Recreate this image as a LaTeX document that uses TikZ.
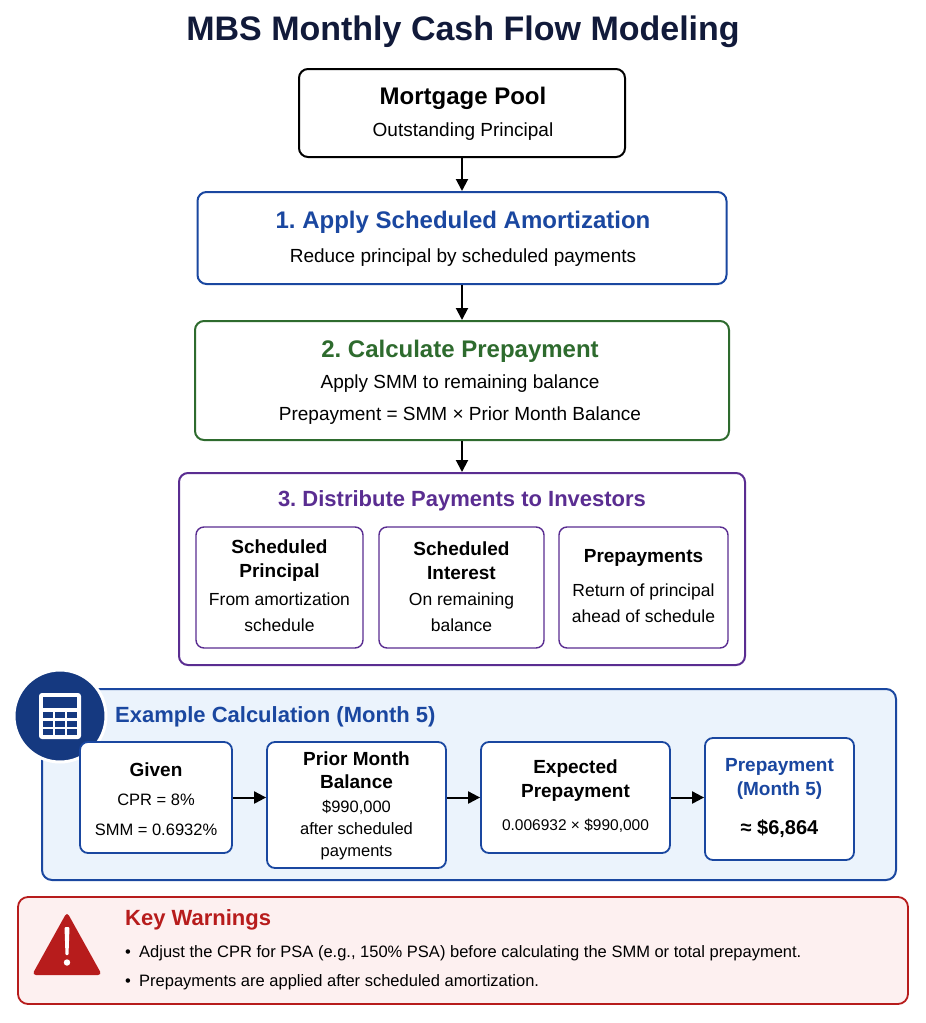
\documentclass[tikz,border=0pt]{standalone}
\usepackage{fontspec}
\setmainfont{Liberation Sans}
\frenchspacing
\usetikzlibrary{arrows.meta}
\definecolor{navy}{HTML}{111A3A}
\definecolor{bblue}{HTML}{1A47A0}
\definecolor{ggreen}{HTML}{2E6B2E}
\definecolor{ppurple}{HTML}{5A2D91}
\definecolor{lblue}{HTML}{EBF3FC}
\definecolor{rred}{HTML}{B71C1C}
\definecolor{lred}{HTML}{FDF0F0}
\begin{document}
\begin{tikzpicture}[x=1pt,y=-1pt,
  box/.style={draw,line width=2pt,rounded corners=9pt,fill=white},
  sub/.style={draw=ppurple,line width=1.4pt,rounded corners=8pt,fill=white},
  cb/.style={draw=bblue,line width=1.8pt,rounded corners=8pt,fill=white},
  arr/.style={-{Triangle[length=12pt,width=12pt]},line width=2pt,black},
  t/.style={inner sep=0pt,align=center,font=\fontsize{19}{23}\selectfont}]
\useasboundingbox (0,0) rectangle (926,1023);
\node[t,font=\fontsize{34}{36}\selectfont\bfseries,text=navy] (title) at (463,32) {MBS Monthly Cash Flow Modeling};
% main boxes
\node[box,draw=black,minimum width=326pt,minimum height=88pt] (pool) at (462,113) {};
\node[t,font=\fontsize{24}{28}\selectfont\bfseries] at (463,98) {Mortgage Pool};
\node[t] at (463,132) {Outstanding Principal};
\node[box,draw=bblue,minimum width=529pt,minimum height=92pt] (b1) at (462,238) {};
\node[t,font=\fontsize{24}{28}\selectfont\bfseries,text=bblue] at (463,222) {1. Apply Scheduled Amortization};
\node[t] at (463,258) {Reduce principal by scheduled payments};
\node[box,draw=ggreen,minimum width=534pt,minimum height=119pt] (b2) at (462,380.5) {};
\node[t,font=\fontsize{24}{28}\selectfont\bfseries,text=ggreen] at (460,351) {2. Calculate Prepayment};
\node[t] at (460,384) {Apply SMM to remaining balance};
\node[t] at (460,416) {Prepayment = SMM × Prior Month Balance};
\node[box,draw=ppurple,minimum width=566pt,minimum height=192pt] (b3) at (462,569) {};
\node[t,font=\fontsize{22}{26}\selectfont\bfseries,text=ppurple] at (462,501) {3. Distribute Payments to Investors};
\node[sub,minimum width=167pt,minimum height=121pt] (s1) at (279.5,587.5) {};
\node[t,font=\fontsize{19}{24}\selectfont\bfseries] at (279.5,561) {Scheduled\\Principal};
\node[t,font=\fontsize{17.5}{26}\selectfont] at (279.5,612) {From amortization\\schedule};
\node[sub,minimum width=165pt,minimum height=121pt] (s2) at (461.5,587.5) {};
\node[t,font=\fontsize{19}{24}\selectfont\bfseries] at (461.5,561) {Scheduled\\Interest};
\node[t,font=\fontsize{17.5}{26}\selectfont] at (461.5,612) {On remaining\\balance};
\node[sub,minimum width=169pt,minimum height=121pt] (s3) at (643.5,587.5) {};
\node[t,font=\fontsize{19}{24}\selectfont\bfseries] at (643.5,558) {Prepayments};
\node[t,font=\fontsize{17.5}{26}\selectfont] at (643.5,603) {Return of principal\\ahead of schedule};
\draw[arr] (pool.south) -- (b1.north);
\draw[arr] (b1.south) -- (b2.north);
\draw[arr] (b2.south) -- (b3.north);
% example
\node[draw=bblue,line width=2pt,rounded corners=10pt,fill=lblue,minimum width=854pt,minimum height=191pt] (ex) at (469,784.5) {};
\node[circle,fill=bblue!80!black,draw=white,line width=3pt,minimum size=92pt,inner sep=0pt] (icon) at (60,716) {};
\fill[white,rounded corners=3pt] (39,693) rectangle (81,739);
\fill[bblue!80!black] (43,697) rectangle (77,708);
\foreach \r in {0,1,2}{\foreach \c in {0,1,2}{\fill[bblue!80!black] ({43+\c*12},{712+\r*8.5}) rectangle ({53+\c*12},{718+\r*8.5});}}
\node[t,anchor=west,font=\fontsize{22}{26}\selectfont\bfseries,text=bblue] (extitle) at (115,717) {Example Calculation (Month 5)};
\node[cb,minimum width=152pt,minimum height=111pt] (g) at (156,797.5) {};
\node[t,font=\fontsize{19}{23}\selectfont\bfseries] at (156,770) {Given};
\node[t,font=\fontsize{16.5}{30}\selectfont] at (156,815) {CPR = 8\%\\SMM = 0.6932\%};
\node[cb,minimum width=179pt,minimum height=126pt] (p) at (356.5,805) {};
\node[t,font=\fontsize{19}{23}\selectfont\bfseries] at (356.5,770) {Prior Month\\Balance};
\node[t,font=\fontsize{16.5}{22}\selectfont] at (356.5,830) {\$990,000\\after scheduled\\payments};
\node[cb,minimum width=189pt,minimum height=111pt] (e) at (575.5,797.5) {};
\node[t,font=\fontsize{19}{24}\selectfont\bfseries] at (575.5,781) {Expected\\Prepayment};
\node[t,font=\fontsize{15.5}{20}\selectfont] at (575.5,826) {0.006932 × \$990,000};
\node[cb,minimum width=149pt,minimum height=122pt] (r) at (779.5,799) {};
\node[t,font=\fontsize{19}{24}\selectfont\bfseries,text=bblue] at (779.5,779) {Prepayment\\(Month 5)};
\node[t,font=\fontsize{20}{24}\selectfont\bfseries] at (779.5,829) {≈ \$6,864};
\draw[arr] (g.east) -- (g.east -| p.west);
\draw[arr] (p.east |- e.east) -- (e.west);
\draw[arr] (e.east) -- (e.east -| r.west);
% warnings
\node[draw=rred,line width=1.8pt,rounded corners=10pt,fill=lred,minimum width=890pt,minimum height=107pt] (w) at (463,950.5) {};
\fill[rred,rounded corners=4pt] (67,912) -- (102,975) -- (32,975) -- cycle;
\fill[white,rounded corners=1pt] (64.5,927) -- (69.5,927) -- (68.5,955) -- (65.5,955) -- cycle;
\fill[white] (67,962.5) circle (3.2pt);
\node[t,anchor=west,font=\fontsize{22}{26}\selectfont\bfseries,text=rred] (wt) at (125,920) {Key Warnings};
\node[t,anchor=west,font=\fontsize{16.5}{20}\selectfont] at (125,953) {•\enspace Adjust the CPR for PSA (e.g., 150\% PSA) before calculating the SMM or total prepayment.};
\node[t,anchor=west,font=\fontsize{16.5}{20}\selectfont] at (125,982) {•\enspace Prepayments are applied after scheduled amortization.};
\end{tikzpicture}
\end{document}
